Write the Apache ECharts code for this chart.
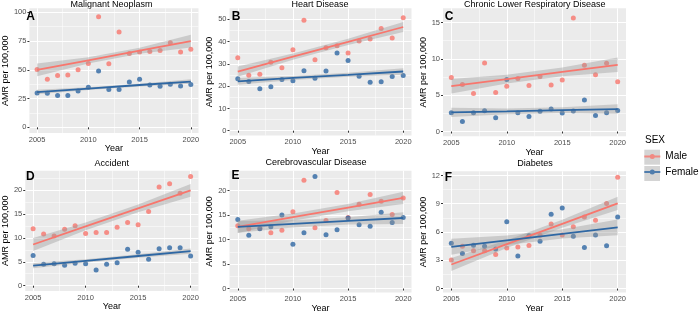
<!doctype html>
<html lang="en">
<head>
<meta charset="UTF-8">
<title>AMR trends by sex</title>
<style>
  html, body { margin: 0; padding: 0; background: #fff; }
  #chart { width: 700px; height: 314px; }
</style>
</head>
<body>
<script src="https://cdn.jsdelivr.net/npm/echarts@6/dist/echarts.min.js"></script>
<div id="chart"></div>
<script>
var years = [2005, 2006, 2007, 2008, 2009, 2010, 2011, 2012, 2013, 2014, 2015, 2016, 2017, 2018, 2019, 2020];
var fitYears = [2005, 2010, 2015, 2020];
var yearTicks = [2005, 2010, 2015, 2020];
var yearMinor = [2007.5, 2012.5, 2017.5];

// A - malignant neoplasm
var neoMale = [50.3, 41.8, 45.0, 45.6, 50.0, 55.5, 96.2, 55.2, 82.8, 64.2, 65.6, 66.0, 66.9, 73.5, 65.6, 68.0];
var neoFemale = [29.9, 29.6, 27.6, 27.6, 31.6, 34.8, 49.0, 32.8, 32.8, 39.4, 41.8, 36.9, 35.8, 37.5, 36.0, 37.2];
var neoMaleFit = [49.9, 58.3, 66.6, 75.0];
var neoMaleLow = [44.4, 55.6, 63.9, 69.5];
var neoMaleHigh = [55.4, 61.0, 69.3, 80.5];
var neoFemaleFit = [30.7, 33.7, 36.8, 39.8];
var neoFemaleLow = [28.7, 32.5, 35.6, 37.8];
var neoFemaleHigh = [32.7, 34.9, 38.0, 41.8];
var neoTicks = [0, 25, 50, 75, 100];
var neoMinor = [12.5, 37.5, 62.5, 87.5];

// B - heart disease
var heartMale = [32.8, 24.9, 25.4, 30.8, 28.3, 36.4, 49.6, 31.9, 37.3, 38.2, 34.9, 40.3, 41.2, 45.9, 41.6, 50.8];
var heartFemale = [23.3, 22.1, 18.8, 19.7, 23.0, 22.4, 26.9, 23.6, 26.8, 34.9, 31.6, 24.5, 21.8, 22.0, 24.4, 24.8];
var heartMaleFit = [26.6, 33.3, 39.9, 46.6];
var heartMaleLow = [24.3, 31.9, 38.5, 44.3];
var heartMaleHigh = [28.9, 34.7, 41.3, 48.9];
var heartFemaleFit = [22.2, 23.7, 25.1, 26.6];
var heartFemaleLow = [20.7, 22.8, 24.2, 25.1];
var heartFemaleHigh = [23.7, 24.6, 26.0, 28.1];
var heartTicks = [0, 10, 20, 30, 40, 50];
var heartMinor = [5, 15, 25, 35, 45];

// C - chronic lower respiratory disease
var clrdMale = [7.44, 6.47, 5.22, 9.42, 5.36, 6.23, 7.30, 6.33, 7.58, 6.41, 7.10, 15.6, 9.10, 7.80, 9.40, 6.83];
var clrdFemale = [2.59, 1.39, 2.59, 2.87, 1.90, 7.16, 2.59, 2.08, 2.77, 3.09, 2.54, 2.81, 4.34, 2.20, 2.59, 2.90];
var clrdMaleFit = [6.23, 7.21, 8.20, 9.18];
var clrdMaleLow = [5.23, 6.61, 7.60, 8.18];
var clrdMaleHigh = [7.23, 7.81, 8.80, 10.18];
var clrdFemaleFit = [2.63, 2.78, 2.94, 3.09];
var clrdFemaleLow = [1.98, 2.38, 2.54, 2.44];
var clrdFemaleHigh = [3.28, 3.18, 3.34, 3.74];
var clrdTicks = [0, 5, 10, 15];
var clrdMinor = [2.5, 7.5, 12.5];

// D - accident
var accMale = [11.9, 10.8, 10.4, 11.8, 12.5, 10.9, 11.1, 11.1, 12.2, 13.2, 12.7, 15.5, 20.6, 21.3, 19.3, 22.8];
var accFemale = [6.3, 4.5, 4.6, 4.25, 4.7, 4.6, 3.3, 4.5, 4.8, 7.6, 7.0, 5.5, 7.7, 7.9, 7.9, 6.2];
var accMaleFit = [8.6, 12.37, 16.13, 19.9];
var accMaleLow = [7.25, 11.57, 15.33, 18.55];
var accMaleHigh = [9.95, 13.17, 16.93, 21.25];
var accFemaleFit = [4.2, 5.2, 6.2, 7.2];
var accFemaleLow = [3.65, 4.85, 5.85, 6.65];
var accFemaleHigh = [4.75, 5.55, 6.55, 7.75];
var accTicks = [0, 5, 10, 15, 20];
var accMinor = [2.5, 7.5, 12.5, 17.5, 22.5];

// E - cerebrovascular disease
var cvdMale = [12.8, 12.2, 12.3, 11.4, 11.9, 15.7, 22.1, 12.4, 13.9, 19.6, 14.5, 17.2, 19.2, 17.8, 15.1, 18.5];
var cvdFemale = [14.1, 10.9, 12.2, 12.6, 15.0, 9.05, 11.4, 22.9, 11.0, 12.0, 14.4, 13.0, 12.7, 15.6, 13.5, 14.5];
var cvdMaleFit = [12.6, 14.57, 16.53, 18.5];
var cvdMaleLow = [11.35, 13.82, 15.78, 17.25];
var cvdMaleHigh = [13.85, 15.32, 17.28, 19.75];
var cvdFemaleFit = [12.6, 13.2, 13.8, 14.4];
var cvdFemaleLow = [11.4, 12.45, 13.05, 13.2];
var cvdFemaleHigh = [13.8, 13.95, 14.55, 15.6];
var cvdTicks = [0, 5, 10, 15, 20];
var cvdMinor = [2.5, 7.5, 12.5, 17.5, 22.5];

// F - diabetes
var diabMale = [3.03, 4.5, 4.0, 4.0, 3.6, 4.3, 4.4, 4.57, 5.65, 6.84, 5.69, 6.56, 7.6, 7.25, 9.03, 11.8];
var diabFemale = [4.81, 3.73, 4.6, 4.5, 4.19, 7.08, 3.45, 5.6, 5.02, 7.88, 8.55, 5.55, 4.36, 5.69, 4.53, 7.6];
var diabMaleFit = [2.55, 4.71, 6.87, 9.03];
var diabMaleLow = [1.85, 4.29, 6.45, 8.33];
var diabMaleHigh = [3.25, 5.13, 7.29, 9.73];
var diabFemaleFit = [4.43, 5.12, 5.80, 6.49];
var diabFemaleLow = [3.59, 4.62, 5.30, 5.65];
var diabFemaleHigh = [5.27, 5.62, 6.30, 7.33];
var diabTicks = [0, 3, 6, 9, 12];
var diabMinor = [1.5, 4.5, 7.5, 10.5];

var MALE = '#F8766D';
var FEMALE = '#2E67A3';
var FONT = '"Liberation Sans", Arial, sans-serif';

var panels = [
    { title: 'Malignant Neoplasm', tag: 'A',
      male: neoMale, female: neoFemale,
      mFit: neoMaleFit, mLow: neoMaleLow, mHigh: neoMaleHigh,
      fFit: neoFemaleFit, fLow: neoFemaleLow, fHigh: neoFemaleHigh,
      ticks: neoTicks, minor: neoMinor, min: -4.93, max: 103.5,
      grid: [21.5, 8.3, 177, 124.7], yGap: 12.5, xGap: 9.5,
      titlePos: [111.5, 4.5], tagPos: [30.5, 17] },
    { title: 'Heart Disease', tag: 'B',
      male: heartMale, female: heartFemale,
      mFit: heartMaleFit, mLow: heartMaleLow, mHigh: heartMaleHigh,
      fFit: heartFemaleFit, fLow: heartFemaleLow, fHigh: heartFemaleHigh,
      ticks: heartTicks, minor: heartMinor, min: -2.15, max: 55,
      grid: [229.5, 8.3, 182, 127.2], yGap: 12.5, xGap: 11,
      titlePos: [320, 4.5], tagPos: [236, 16.7] },
    { title: 'Chronic Lower Respiratory Disease', tag: 'C',
      male: clrdMale, female: clrdFemale,
      mFit: clrdMaleFit, mLow: clrdMaleLow, mHigh: clrdMaleHigh,
      fFit: clrdFemaleFit, fLow: clrdFemaleLow, fHigh: clrdFemaleHigh,
      ticks: clrdTicks, minor: clrdMinor, min: -0.66, max: 16.95,
      grid: [443, 8.3, 183, 128], yGap: 11.5, xGap: 10.5,
      titlePos: [534.7, 5], tagPos: [449, 16.7] },
    { title: 'Accident', tag: 'D',
      male: accMale, female: accFemale,
      mFit: accMaleFit, mLow: accMaleLow, mHigh: accMaleHigh,
      fFit: accFemaleFit, fLow: accFemaleLow, fHigh: accFemaleHigh,
      ticks: accTicks, minor: accMinor, min: -1.1, max: 24.0,
      grid: [21.5, 170.7, 177, 120.3], yGap: 10.3, xGap: 9,
      titlePos: [111.7, 164], tagPos: [30.4, 176.7] },
    { title: 'Cerebrovascular Disease', tag: 'E',
      male: cvdMale, female: cvdFemale,
      mFit: cvdMaleFit, mLow: cvdMaleLow, mHigh: cvdMaleHigh,
      fFit: cvdFemaleFit, fLow: cvdFemaleLow, fHigh: cvdFemaleHigh,
      ticks: cvdTicks, minor: cvdMinor, min: -0.81, max: 24.06,
      grid: [229.5, 170.7, 182, 122.6], yGap: 13, xGap: 11.5,
      titlePos: [316, 162.7], tagPos: [235.5, 176] },
    { title: 'Diabetes', tag: 'F',
      male: diabMale, female: diabFemale,
      mFit: diabMaleFit, mLow: diabMaleLow, mHigh: diabMaleHigh,
      fFit: diabFemaleFit, fLow: diabFemaleLow, fHigh: diabFemaleHigh,
      ticks: diabTicks, minor: diabMinor, min: -0.42, max: 12.44,
      grid: [443, 171.3, 183, 123.4], yGap: 11.5, xGap: 11.5,
      titlePos: [535, 164], tagPos: [448.4, 177.5] }
];

function pairs(xs, ys) {
    return xs.map(function (x, k) { return [x, ys[k]]; });
}

// ribbon drawn as one polygon through the axis scales
function band(ax, low, high) {
    return {
        type: 'custom', xAxisIndex: ax, yAxisIndex: ax, z: 3, silent: true,
        data: fitYears.map(function (y, k) { return [y, low[k], high[k]]; }),
        renderItem: function (params, api) {
            if (params.dataIndex !== 0) return;
            var pts = [];
            for (var k = 0; k < fitYears.length; k++) pts.push(api.coord([fitYears[k], high[k]]));
            for (var k = fitYears.length - 1; k >= 0; k--) pts.push(api.coord([fitYears[k], low[k]]));
            return { type: 'polygon', shape: { points: pts }, style: { fill: 'rgba(153,153,153,0.4)' } };
        }
    };
}

var option = {
    animation: false,
    textStyle: { fontFamily: FONT },
    grid: [], xAxis: [], yAxis: [], series: [], graphic: [],
    legend: {
        data: ['Male', 'Female'], orient: 'vertical', left: 644.3, top: 151.5,
        padding: 0, itemWidth: 16, itemHeight: 5, itemGap: 5.5, selectedMode: false,
        icon: 'path://M0,1.6H16V3.4H0Z M8,0A2.5,2.5 0 1 1 8,5A2.5,2.5 0 1 1 8,0Z',
        textStyle: { fontSize: 10, color: '#000', fontFamily: FONT }
    }
};

panels.forEach(function (p, i) {
    option.grid.push({
        left: p.grid[0], top: p.grid[1], width: p.grid[2], height: p.grid[3],
        show: true, backgroundColor: '#EBEBEB', borderWidth: 0
    });
    // major x axis (2i) and a bare one for the minor grid lines (2i+1)
    option.xAxis.push({
        type: 'value', gridIndex: i, min: 2004.25, max: 2020.75,
        name: 'Year', nameLocation: 'middle', nameGap: p.xGap,
        nameTextStyle: { fontSize: 9, color: '#000' },
        axisLine: { show: false },
        axisTick: { show: true, length: 2, customValues: yearTicks, lineStyle: { color: '#333' } },
        axisLabel: { customValues: yearTicks, fontSize: 7.5, color: '#4D4D4D', margin: 2.5,
                     formatter: function (v) { return String(v); } },
        splitLine: { show: true, lineStyle: { color: '#fff', width: 1 } }
    });
    option.xAxis.push({
        type: 'value', gridIndex: i, position: 'top', min: 2004.25, max: 2020.75,
        axisLine: { show: false }, axisLabel: { show: false },
        axisTick: { show: false, customValues: yearMinor },
        splitLine: { show: true, lineStyle: { color: '#fff', width: 0.5 } }
    });
    option.yAxis.push({
        type: 'value', gridIndex: i, min: p.min, max: p.max,
        name: 'AMR per 100,000', nameLocation: 'middle', nameGap: p.yGap,
        nameTextStyle: { fontSize: 9, color: '#000' },
        axisLine: { show: false },
        axisTick: { show: true, length: 2, customValues: p.ticks, lineStyle: { color: '#333' } },
        axisLabel: { customValues: p.ticks, fontSize: 7.5, color: '#4D4D4D', margin: 3,
                     formatter: function (v) { return String(v); } },
        splitLine: { show: true, lineStyle: { color: '#fff', width: 1 } }
    });
    option.yAxis.push({
        type: 'value', gridIndex: i, position: 'right', min: p.min, max: p.max,
        axisLine: { show: false }, axisLabel: { show: false },
        axisTick: { show: false, customValues: p.minor },
        splitLine: { show: true, lineStyle: { color: '#fff', width: 0.5 } }
    });

    var ax = 2 * i;
    option.series.push(
        { type: 'scatter', name: 'Male', xAxisIndex: ax, yAxisIndex: ax, z: 2,
          symbolSize: 5, itemStyle: { color: MALE }, data: pairs(years, p.male) },
        { type: 'scatter', name: 'Female', xAxisIndex: ax, yAxisIndex: ax, z: 2,
          symbolSize: 5, itemStyle: { color: FEMALE }, data: pairs(years, p.female) },
        band(ax, p.mLow, p.mHigh),
        band(ax, p.fLow, p.fHigh),
        { type: 'line', name: 'Male', xAxisIndex: ax, yAxisIndex: ax, z: 4, symbol: 'none',
          lineStyle: { color: MALE, width: 1.8 }, itemStyle: { color: MALE }, data: pairs(fitYears, p.mFit) },
        { type: 'line', name: 'Female', xAxisIndex: ax, yAxisIndex: ax, z: 4, symbol: 'none',
          lineStyle: { color: FEMALE, width: 1.8 }, itemStyle: { color: FEMALE }, data: pairs(fitYears, p.fFit) }
    );

    option.graphic.push(
        { type: 'text', x: p.titlePos[0], y: p.titlePos[1], silent: true,
          style: { text: p.title, fill: '#000', fontSize: 9, fontFamily: FONT, align: 'center', verticalAlign: 'middle' } },
        { type: 'text', x: p.tagPos[0], y: p.tagPos[1], z: 10, silent: true,
          style: { text: p.tag, fill: '#000', fontSize: 12, fontWeight: 'bold', fontFamily: FONT, align: 'center', verticalAlign: 'middle' } }
    );
});

// legend title and the grey key boxes
option.graphic.push(
    { type: 'text', x: 645, y: 140.7, silent: true,
      style: { text: 'SEX', fill: '#000', fontSize: 10, fontFamily: FONT, align: 'left', verticalAlign: 'middle' } },
    { type: 'rect', shape: { x: 644.3, y: 149.7, width: 15.7, height: 15 }, style: { fill: '#D4D4D4' }, silent: true },
    { type: 'rect', shape: { x: 644.3, y: 166, width: 15.7, height: 15 }, style: { fill: '#D4D4D4' }, silent: true }
);

var chart = echarts.init(document.getElementById('chart'));
chart.setOption(option);
</script>
</body>
</html>
